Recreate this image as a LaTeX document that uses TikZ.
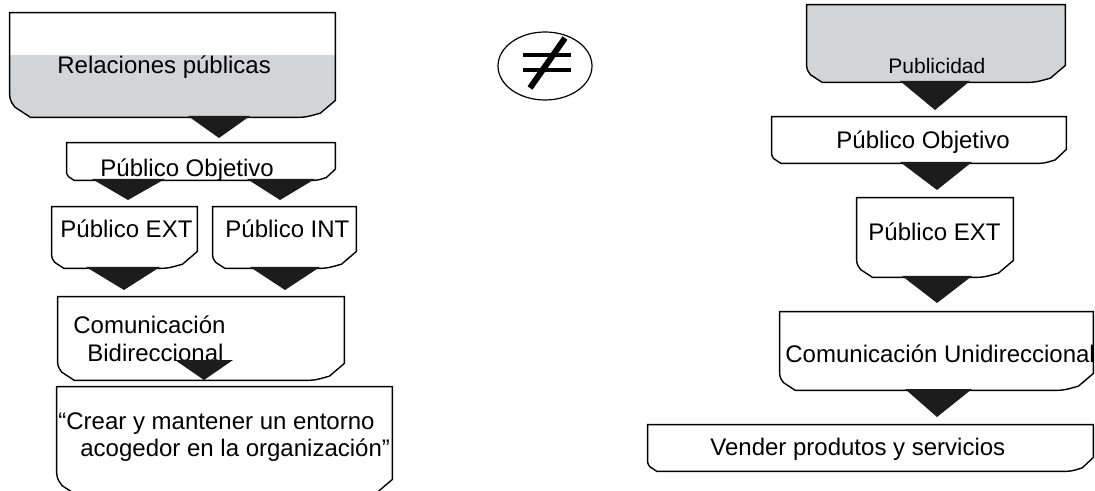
\documentclass[tikz,border=0pt]{standalone}
\usepackage{fontspec}
\setmainfont{Liberation Sans}
\usetikzlibrary{fit,calc,shapes.geometric}
\definecolor{boxgray}{RGB}{211,212,214}
\definecolor{arrowc}{RGB}{28,28,28}
\newcommand\banner[2]{%
  \path[#2] let \p1=(#1.north west), \p2=(#1.south east), \n1={\y1-\y2},
     \n2={0.28*\n1}, \n3={0.2*\n1}, \n4={min(0.3*\n1,8.5)}, \n5={min(0.24*\n1,7.5)} in
   (\x1,\y1) -- (\x2,\y1) -- (\x2,{\y2+\n4*1pt}) -- ({\x2-\n5*1pt},{\y2+0.25*\n4*1pt})
   .. controls ({\x2-2*\n5*1pt},\y2) .. ({\x2-3*\n5*1pt},\y2)
   -- ({\x1+\n3*1pt},\y2) -- ({\x1+0.25*\n3*1pt},{\y2+0.35*\n2*1pt})
   .. controls (\x1,{\y2+0.6*\n2*1pt}) .. (\x1,{\y2+\n2*1pt}) -- cycle;}
\newcommand\blockarrow[5]{\fill[arrowc] (#1,#3) -- (#2,#3) -- (#4,#5) -- cycle;}
\tikzset{
  frame/.style={inner sep=0pt, draw=none},
  outline/.style={draw=black, line width=0.7pt},
  txt/.style={inner sep=0pt, anchor=base west, font=\fontsize{12}{14}\selectfont},
}
\begin{document}
\begin{tikzpicture}[x=0.5pt,y=-0.5pt]
\useasboundingbox (0,0) rectangle (1095,491);
% frames
\node[frame, fit={(10,13) (335,117)}] (b1) {};
\node[frame, fit={(67,143) (335,180)}] (b2) {};
\node[frame, fit={(52,207) (197,268)}] (b3) {};
\node[frame, fit={(213,207) (356,268)}] (b4) {};
\node[frame, fit={(58,297) (344,380)}] (b5) {};
\node[frame, fit={(57,387) (392,496)}] (b6) {};
\node[frame, fit={(807,5) (1065,82)}] (b7) {};
\node[frame, fit={(772,117) (1066,163)}] (b8) {};
\node[frame, fit={(857,198) (1013,277)}] (b9) {};
\node[frame, fit={(780,312) (1093,390)}] (b10) {};
\node[frame, fit={(648,425) (1093,471)}] (b11) {};
% shapes
\banner{b1}{fill=boxgray}
\fill[white] (b1.north west) rectangle ($(b1.north east)+(0,42)$);
\banner{b1}{outline}
\foreach \b in {b2,b3,b4,b5,b6,b8,b9,b10,b11}{\banner{\b}{outline, fill=white}}
\banner{b7}{outline, fill=boxgray}
% texts
\node[txt] (t1) at (57,74) {Relaciones públicas};
\node[txt] (t2) at (100,177) {Público Objetivo};
\node[txt] (t3) at (60,238) {Público EXT};
\node[txt] (t4) at (225,238) {Público INT};
\node[txt] (t5a) at (73,333) {Comunicación};
\node[txt] (t5b) at (87,361) {Bidireccional};
\node[txt] (t6a) at (58,429) {“Crear y mantener un entorno};
\node[txt] (t6b) at (80,456) {acogedor en la organización”};
\node[txt, font=\fontsize{10.5}{12}\selectfont] (t7) at (888,74) {Publicidad};
\node[txt] (t8) at (836,149) {Público Objetivo};
\node[txt] (t9) at (868,241) {Público EXT};
\node[txt] (t10) at (785,362) {Comunicación Unidireccional};
\node[txt] (t11) at (710,455) {Vender produtos y servicios};
% block arrows
\blockarrow{188}{250}{116}{219}{138}
\blockarrow{92}{165}{179}{128}{200}
\blockarrow{247}{315}{179}{280}{200}
\blockarrow{86}{160}{267}{124}{290}
\blockarrow{250}{320}{267}{285}{290}
\blockarrow{175}{233}{360}{204}{380}
\blockarrow{900}{970}{81}{935}{110}
\blockarrow{900}{972}{162}{937}{190}
\blockarrow{902}{972}{276}{937}{303}
\blockarrow{905}{972}{389}{937}{417}
% not-equal sign
\node[draw, ellipse, line width=0.6pt, minimum width=47pt, minimum height=34pt, inner sep=0pt] (neq) at (545,66) {};
\draw[line width=2.2pt] ($(neq.center)+(-22,-11)$) -- ++(48,0);
\draw[line width=2.2pt] ($(neq.center)+(-22,4)$) -- ++(48,0);
\draw[line width=3pt] ($(neq.center)+(-15,22)$) -- ($(neq.center)+(20,-28)$);
\end{tikzpicture}
\end{document}
